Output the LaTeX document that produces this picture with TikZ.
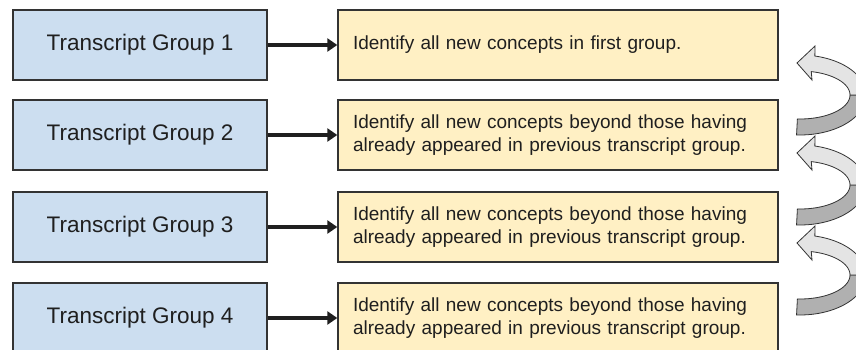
\documentclass[tikz,border=0pt]{standalone}
\usepackage{fontspec}
\setmainfont{Liberation Sans}
\usetikzlibrary{arrows.meta}
\definecolor{boxblue}{RGB}{204,222,240}
\definecolor{boxyellow}{RGB}{255,240,196}
\definecolor{edgegray}{RGB}{51,51,51}
\definecolor{lightarr}{RGB}{228,228,228}
\definecolor{darkarr}{RGB}{176,176,176}
\tikzset{
 groupbox/.style={draw=edgegray, line width=1.4pt, fill=boxblue, minimum width=254pt, minimum height=70pt, inner sep=0pt, font=\fontsize{22.5}{27}\selectfont, text=black!88},
 taskbox/.style={draw=edgegray, line width=1.4pt, fill=boxyellow, minimum width=440pt, minimum height=70pt, text width=410pt, align=left, inner xsep=15pt, inner ysep=0pt, font=\fontsize{19}{22.8}\selectfont, text=black!88},
 flow/.style={line width=3.6pt, draw=black!88, -{Triangle[length=10pt,width=13pt]}},
 cyclepart/.style={draw=edgegray, line width=0.8pt, line join=miter},
}
\begin{document}
\begin{tikzpicture}[x=1pt,y=-1pt]
\useasboundingbox (0,0) rectangle (856,350);
\clip (0,0) rectangle (856,350);
\node[groupbox] (g1) at (140,45) {Transcript Group 1};
\node[groupbox] (g2) at (140,135) {Transcript Group 2};
\node[groupbox] (g3) at (140,227) {Transcript Group 3};
\node[groupbox] (g4) at (140,318) {Transcript Group 4};
\node[taskbox] (t1) at (558,45) {Identify all new concepts in first group.};
\node[taskbox] (t2) at (558,135) {Identify all new concepts beyond those having\\already appeared in previous transcript group.};
\node[taskbox] (t3) at (558,227) {Identify all new concepts beyond those having\\already appeared in previous transcript group.};
\node[taskbox] (t4) at (558,318) {Identify all new concepts beyond those having\\already appeared in previous transcript group.};
\draw[flow] (g1) -- (t1);
\draw[flow] (g2) -- (t2);
\draw[flow] (g3) -- (t3);
\draw[flow] (g4) -- (t4);
\foreach \s in {0,90,180}{
\begin{scope}[yshift=-\s pt]
\filldraw[cyclepart, fill=darkarr] plot[domain=93:0, samples=30] ({800+66*cos(\x)},{95+40*sin(\x)}) -- plot[domain=0:93, samples=30] ({800+50*cos(\x)},{95+24*sin(\x)}) -- cycle;
\filldraw[cyclepart, fill=lightarr] plot[domain=0:-77, samples=30] ({800+66*cos(\x)},{95+40*sin(\x)}) -- (815,46) -- (797,63) -- (812,80) -- plot[domain=-77:0, samples=30] ({800+50*cos(\x)},{95+24*sin(\x)}) -- cycle;
\end{scope}
}
\end{tikzpicture}
\end{document}
